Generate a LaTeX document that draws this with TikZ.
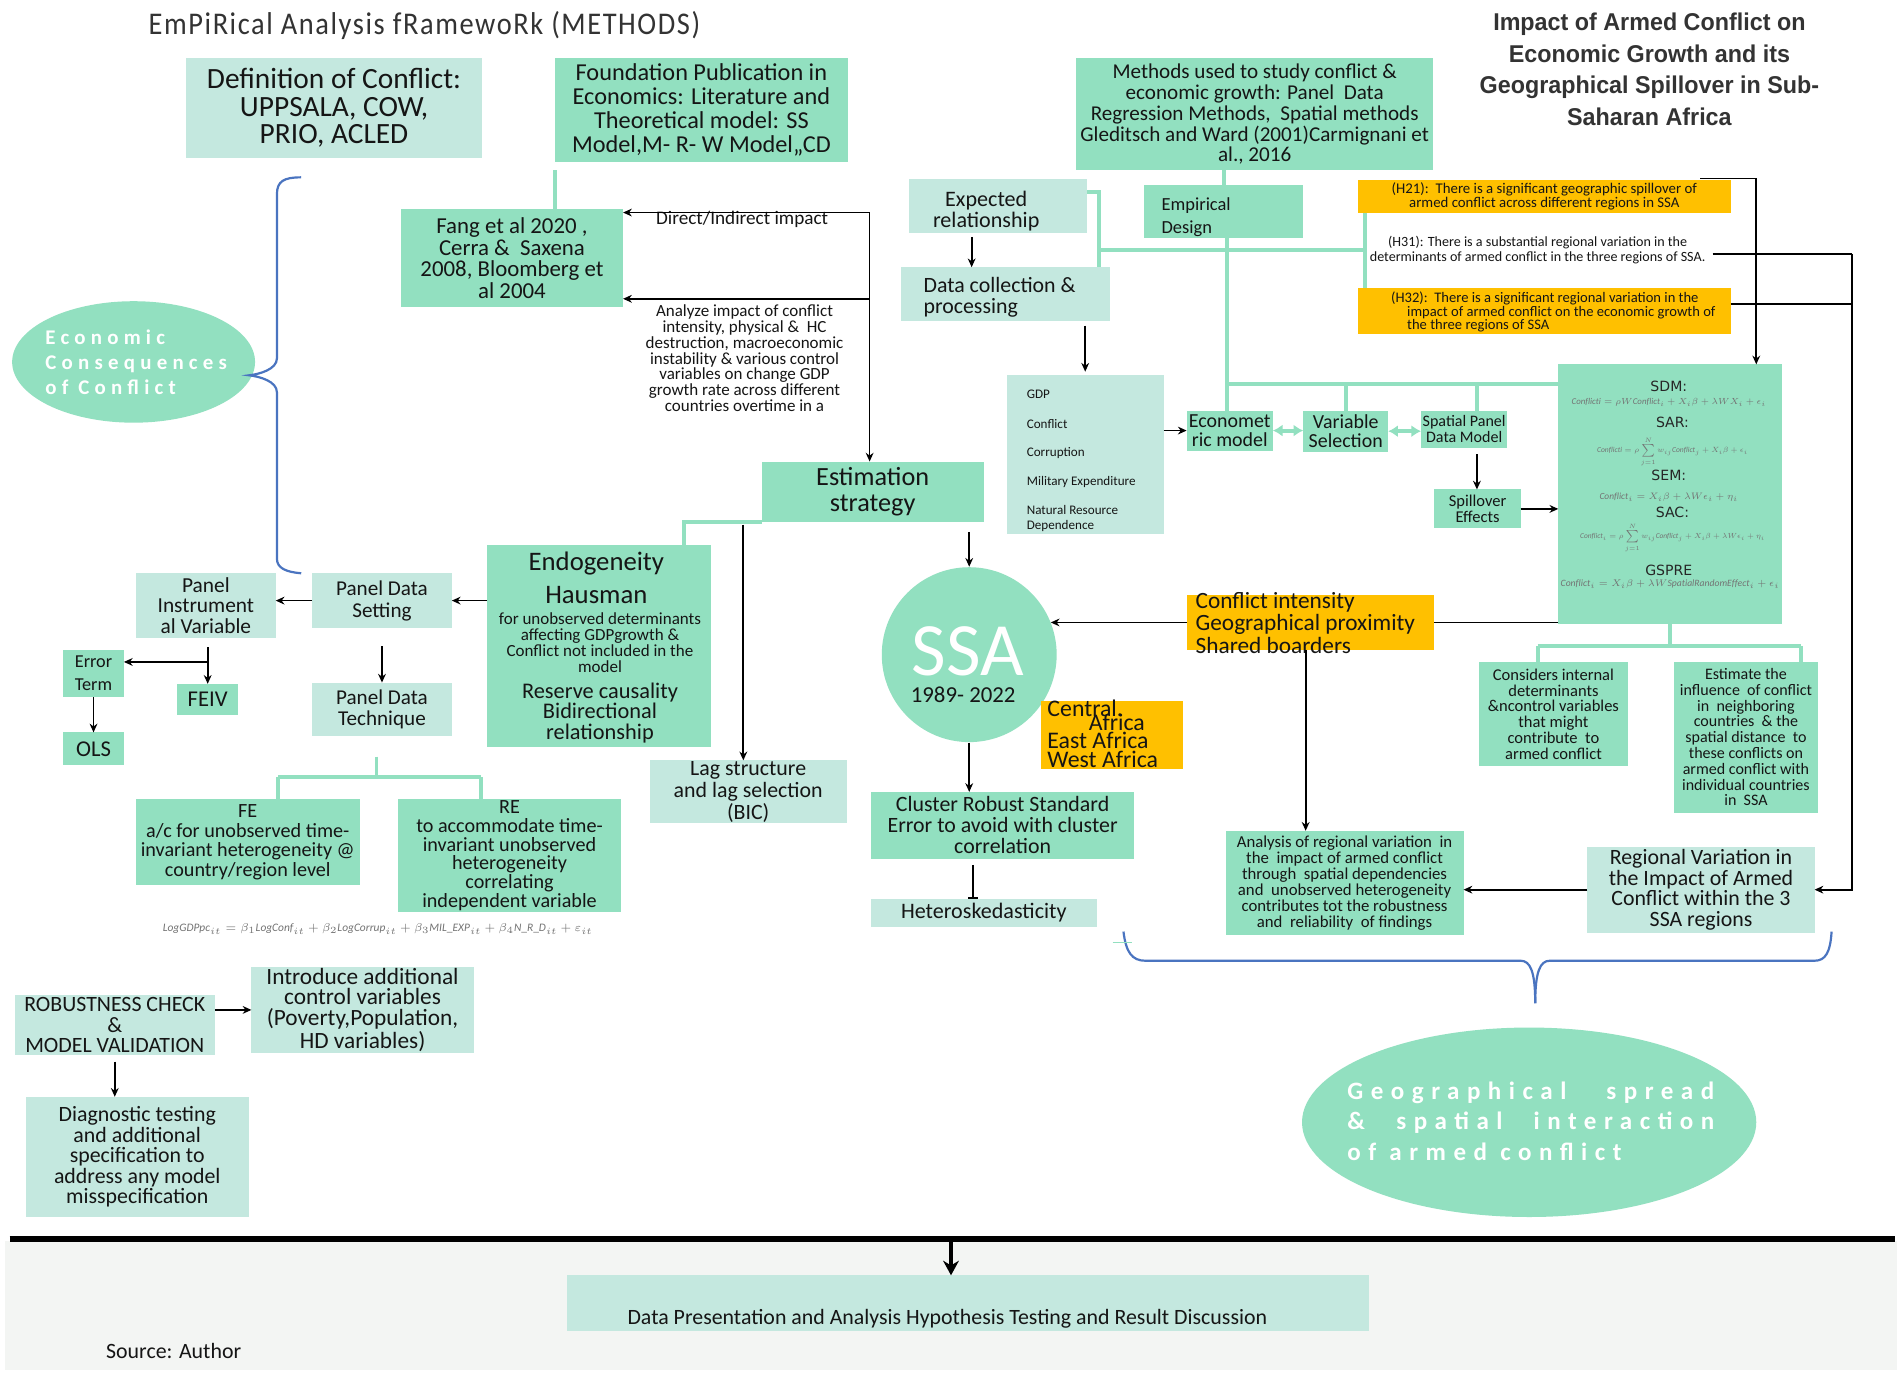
\documentclass[tikz,border=0pt]{standalone}
\usepackage{fontspec}
\setmainfont{Carlito}
\newfontfamily\titlefont{Liberation Sans}[FakeStretch=0.96]
\newfontfamily\spacedfont{Carlito}[LetterSpace=25]
\newfontfamily\spacedfontb{Carlito}[LetterSpace=30]
\newfontfamily\gothfont{DejaVu Sans}
\newfontfamily\headfont{Carlito}[FakeStretch=0.9,LetterSpace=5]
\usetikzlibrary{arrows.meta,calc,shapes.geometric}
\definecolor{mint}{HTML}{92E0C0}
\definecolor{pale}{HTML}{C4E8DF}
\definecolor{gold}{HTML}{FFC000}
\definecolor{bracecol}{HTML}{4A74C0}
\definecolor{txt}{HTML}{151515}
\definecolor{bottombg}{HTML}{F3F5F3}
\newcommand\fsz[2]{\fontsize{#1}{#2}\selectfont}
\newcommand\mybox[7]{\node[#6, minimum width={(#4-#2)*0.5pt}, minimum height={(#5-#3)*0.5pt}] (#1) at ({(#2+#4)/2},{(#3+#5)/2}) {#7};}
\begin{document}
\begin{tikzpicture}[x=0.5pt,y=-0.5pt,
 bx/.style={rectangle, inner sep=0pt, outer sep=0pt, align=center, text=txt},
 mintbox/.style={bx, fill=mint},
 palebox/.style={bx, fill=pale},
 goldbox/.style={bx, fill=gold},
 lbl/.style={inner sep=0pt, text=txt},
 arr/.style={draw=black, line width=0.7pt, -{Stealth[length=3.6pt,width=3.2pt]}},
 ln/.style={draw=black, line width=0.8pt},
 tl/.style={draw=mint, line width=1.6pt},
 brc/.style={draw=bracecol, line width=0.9pt},
 eqf/.style={inner sep=0pt, text=black!55, font=\fsz{6}{7}},
 lab/.style={inner sep=0pt, text=black!85, font=\gothfont\fsz{5.8}{6}},
 dbl/.style={tl, {Latex[length=4pt,width=5pt]}-{Latex[length=4pt,width=5pt]}},
]
\useasboundingbox (0,0) rectangle (1566,1130);
\fill[white] (0,0) rectangle (1566,1130);
\fill[bottombg] (4,1022) rectangle (1562,1128);

% titles
\node[lbl, anchor=west, font=\headfont\fsz{13}{14}, text=black!80] (ttl) at (122,21) {EmPiRical Analysis fRamewoRk (METHODS)};
\node[lbl, align=center, font=\titlefont\bfseries\fsz{10}{13}, text=black!80] (ttr) at (1358,57) {Impact of Armed Conflict on\\Economic Growth and its\\Geographical Spillover in Sub-\\Saharan Africa};

% top-left boxes
\mybox{def}{153}{48}{397}{130}{palebox,font=\fsz{12.1}{11.3}}{Definition of Conflict:\\UPPSALA, COW,\\PRIO, ACLED}
\mybox{found}{457}{48}{698}{133}{mintbox,font=\fsz{10}{9.8}}{Foundation Publication in\\Economics: Literature and\\Theoretical model: SS\\Model,M- R- W Model,,CD}
\mybox{fang}{330}{172}{513}{253}{mintbox,font=\fsz{9.4}{9}}{Fang et al 2020 ,\\Cerra \&\ \ Saxena\\2008, Bloomberg et\\al 2004}

% economic consequences ellipse
\node[ellipse, fill=mint, inner sep=0pt, minimum width=100pt, minimum height=50pt] (ecc) at (110,298) {};
\node[lbl, anchor=west, align=left, text=white, font=\spacedfont\bfseries\fsz{8.6}{10.3}] (ecct) at (37,298) {Economic\\Consequences\\of Conflict};

% left brace
\draw[brc] (248,146) .. controls (234,146) and (228,149) .. (228,160) -- (228,295) .. controls (228,304) and (214,308) .. (205,309) .. controls (214,310) and (228,314) .. (228,323) -- (228,460) .. controls (228,468) and (236,471) .. (248,472);

% labels between
\node[lbl, font=\fsz{7.9}{8}] (dil) at (611,181) {Direct/Indirect impact};
\node[lbl, align=center, font=\fsz{7}{6.5}] (anl) at (613,295) {Analyze impact of conflict\\intensity, physical \&\ \ HC\\destruction, macroeconomic\\instability \&\ various control\\variables on change GDP\\growth rate across different\\countries overtime in a};

\mybox{est}{627}{380}{810}{430}{mintbox,font=\fsz{10.8}{10.5}}{Estimation\\strategy}

% methods column
\mybox{meth}{886}{48}{1180}{140}{mintbox,font=\fsz{8.7}{8.6}}{Methods used to study conflict \&\\economic growth: Panel\ \ Data\\Regression Methods,\ \ Spatial methods\\Gleditsch and Ward (2001)Carmignani et\\al., 2016}
\mybox{emp}{942}{152}{1073}{196}{mintbox}{}
\node[lbl, anchor=west, align=left, font=\fsz{7.6}{9.3}] (empt) at (956,179) {Empirical\\Design};
\mybox{expect}{748}{147}{895}{192}{palebox}{}
\node[lbl, align=center, font=\fsz{9.1}{8.6}] (expt) at (812,174) {Expected\\relationship};
\mybox{datac}{742}{220}{914}{264}{palebox}{}
\node[lbl, anchor=west, align=left, font=\fsz{9}{8.6}] (datat) at (760,245) {Data collection \&\\processing};

% hypotheses
\mybox{hA}{1118}{148}{1425}{175}{goldbox,font=\fsz{6.1}{5.6}}{(H21):\ \ There is a significant geographic spillover of\\armed conflict across different regions in SSA}
\node[lbl, align=center, font=\fsz{5.8}{6}] (hB) at (1266,206) {(H31): There is a substantial regional variation in the\\determinants of armed conflict in the three regions of SSA.};
\mybox{hC}{1118}{237}{1425}{275}{goldbox}{}
\node[lbl, anchor=west, align=left, font=\fsz{6}{5.6}] (hCt) at (1145,257) {(H32):\ \ There is a significant regional variation in the\\\hspace*{1.1em}impact of armed conflict on the economic growth of\\\hspace*{1.1em}the three regions of SSA};

% variables list
\mybox{list}{829}{309}{958}{440}{palebox}{}
\node[lbl, anchor=west, font=\fsz{5.4}{6}] (v1) at (845,325) {GDP};
\node[lbl, anchor=west, font=\fsz{5.4}{6}] (v2) at (845,349) {Conflict};
\node[lbl, anchor=west, font=\fsz{5.4}{6}] (v3) at (845,373) {Corruption};
\node[lbl, anchor=west, font=\fsz{5.4}{6}] (v4) at (845,397) {Military Expenditure};
\node[lbl, anchor=west, align=left, font=\fsz{5.4}{6}] (v5) at (845,427) {Natural Resource\\Dependence};

\mybox{econm}{977}{338}{1048}{371}{mintbox,font=\fsz{8.2}{7.5}}{Economet\\ric model}
\mybox{var}{1073}{338}{1143}{372}{mintbox,font=\fsz{8.2}{7.5}}{Variable\\Selection}
\mybox{spat}{1170}{338}{1241}{369}{mintbox,font=\fsz{6.6}{6.5}}{Spatial Panel\\Data Model}
\mybox{spill}{1181}{403}{1252}{435}{mintbox,font=\fsz{6.8}{6.5}}{Spillover\\Effects}

% spatial models box
\mybox{sdm}{1283}{300}{1467}{514}{mintbox}{}
\node[lab] (l1) at (1374,318) {SDM:};
\node[eqf] (e1) at (1374,331) {\resizebox{80pt}{!}{$\mathit{Conflicti} = \rho W\mathit{Conflict}_i + X_i\beta + \lambda W X_i + \epsilon_i$}};
\node[lab] (l2) at (1377,348) {SAR:};
\node[eqf] (e2) at (1377,372) {\resizebox{62pt}{!}{$\mathit{Conflicti} = \rho\sum\limits_{j=1}^{N} w_{ij}\mathit{Conflict}_j + X_i\beta + \epsilon_i$}};
\node[lab] (l3) at (1374,391) {SEM:};
\node[eqf] (e3) at (1374,409) {\resizebox{57pt}{!}{$\mathit{Conflict}_i = X_i\beta + \lambda W\epsilon_i + \eta_i$}};
\node[lab] (l4) at (1377,422) {SAC:};
\node[eqf] (e4) at (1377,443) {\resizebox{76pt}{!}{$\mathit{Conflict}_i = \rho\sum\limits_{j=1}^{N} w_{ij}\mathit{Conflict}_j + X_i\beta + \lambda W\epsilon_i + \eta_i$}};
\node[lab] (l5) at (1374,470) {GSPRE};
\node[eqf] (e5) at (1375,481) {\resizebox{90pt}{!}{$\mathit{Conflict}_i = X_i\beta + \lambda W\mathit{SpatialRandomEffect}_i + \epsilon_i$}};

\mybox{cons}{1218}{545}{1340}{631}{mintbox,font=\fsz{6.8}{6.5}}{Considers internal\\determinants\\\&ncontrol variables\\that might\\contribute\ \ to\\armed conflict}
\mybox{estm}{1378}{545}{1497}{669}{mintbox,font=\fsz{6.6}{6.5}}{Estimate the\\influence\ \ of conflict\\in\ \ neighboring\\countries\ \ \& the\\spatial distance\ \ to\\these conflicts on\\armed conflict with\\individual countries\\in\ \ SSA}

% conflict intensity
\mybox{ci}{977}{490}{1181}{535}{goldbox}{}
\node[lbl, anchor=west, align=left, font=\fsz{9.6}{7.8}] (cit) at (984,513) {Conflict intensity\\Geographical proximity\\Shared boarders};

% SSA circle
\node[circle, fill=mint, inner sep=0pt, minimum size=72pt] (ssa) at (798,539) {};
\node[lbl, text=white, font=\fsz{31}{31}] (ssat) at (797,536) {SSA};
\node[lbl, font=\fsz{9.4}{9}] (ssay) at (793,572) {1989- 2022};
\mybox{reg3}{857}{577}{974}{633}{goldbox}{}
\node[lbl, anchor=west, font=\fsz{9.8}{9}] (r1) at (862,583) {Central.};
\node[lbl, anchor=west, font=\fsz{9.8}{9}] (r2) at (896,595) {Africa};
\node[lbl, anchor=west, font=\fsz{9.8}{9}] (r3) at (862,610) {East Africa};
\node[lbl, anchor=west, font=\fsz{9.8}{9}] (r4) at (862,625) {West Africa};

\mybox{clu}{717}{652}{934}{707}{mintbox,font=\fsz{9}{8.6}}{Cluster Robust Standard\\Error to avoid with cluster\\correlation}
\mybox{het}{717}{740}{903}{763}{palebox,font=\fsz{9.1}{9}}{Heteroskedasticity}

\mybox{ana}{1009}{684}{1205}{770}{mintbox,font=\fsz{6.9}{6.6}}{Analysis of regional variation\ \ in\\the\ \ impact of armed conflict\\through\ \ spatial dependencies\\and\ \ unobserved heterogeneity\\contributes tot the robustness\\and\ \ reliability\ \ of findings}
\mybox{reg}{1307}{697}{1494}{768}{palebox,font=\fsz{9}{8.5}}{Regional Variation in\\the Impact of Armed\\Conflict within the 3\\SSA regions}

% left middle
\mybox{endo}{401}{449}{585}{615}{mintbox}{}
\node[lbl, font=\fsz{11}{11}] (en1) at (491,464) {Endogeneity};
\node[lbl, font=\fsz{11}{11}] (en2) at (491,490) {Hausman};
\node[lbl, align=center, font=\fsz{7}{6.5}] (en3) at (494,529) {for unobserved determinants\\affecting GDPgrowth \&\\Conflict not included in the\\model};
\node[lbl, align=center, font=\fsz{9.2}{8.5}] (en4) at (494,587) {Reserve causality\\Bidirectional\\relationship};

\mybox{pds}{257}{472}{372}{517}{palebox,font=\fsz{8.7}{9}}{Panel Data\\Setting}
\mybox{piv}{112}{472}{227}{525}{palebox,font=\fsz{8.8}{8.5}}{Panel\\Instrument\\al Variable}
\mybox{err}{52}{535}{102}{574}{mintbox,font=\fsz{7.5}{9.5}}{Error\\Term}
\mybox{feiv}{146}{563}{196}{589}{mintbox,font=\fsz{9.3}{9}}{FEIV}
\mybox{ols}{52}{603}{102}{630}{mintbox,font=\fsz{9.3}{9}}{OLS}
\mybox{pdt}{257}{562}{372}{606}{palebox,font=\fsz{8.7}{9}}{Panel Data\\Technique}
\mybox{fe}{112}{658}{296}{729}{mintbox,font=\fsz{8.3}{8}}{FE\\a/c for unobserved time-\\invariant heterogeneity @\\country/region level}
\mybox{re}{328}{658}{511}{751}{mintbox,font=\fsz{8.3}{7.8}}{RE\\to accommodate time-\\invariant unobserved\\heterogeneity\\correlating\\independent variable}
\node[eqf] (eqm) at (311,765) {\resizebox{177pt}{!}{$\mathit{LogGDPpc}_{it} = \beta_1\mathit{LogConf}_{it} + \beta_2\mathit{LogCorrup}_{it} + \beta_3\mathit{MIL\_EXP}_{it} + \beta_4\mathit{N\_R\_D}_{it} + \varepsilon_{it}$}};
\mybox{lag}{535}{626}{697}{678}{palebox,font=\fsz{9}{9}}{Lag structure\\and lag selection\\(BIC)}

% robustness
\mybox{rob}{12}{819}{177}{869}{palebox,font=\fsz{9}{8.5}}{ROBUSTNESS CHECK\\\&\\MODEL VALIDATION}
\mybox{intro}{207}{796}{390}{867}{palebox,font=\fsz{9.6}{8.5}}{Introduce additional\\control variables\\(Poverty,Population,\\HD variables)}
\mybox{diag}{21}{903}{205}{1002}{palebox,font=\fsz{9}{8.5}}{Diagnostic testing\\and additional\\specification to\\address any model\\misspecification}

% geographical ellipse
\node[ellipse, fill=mint, inner sep=0pt, minimum width=187pt, minimum height=78pt] (geo) at (1259,924) {};
\node[lbl, anchor=west, align=left, text=white, font=\spacedfontb\bfseries\fsz{10.3}{12.6}] (geot) at (1109,923) {\makebox[151pt][s]{Geographical spread}\\\makebox[151pt][s]{\& spatial interaction}\\of armed conflict};

% bottom brace
\draw[brc] (925,767) .. controls (927,784) and (932,791) .. (943,791) -- (1252,791) .. controls (1260,791) and (1264,800) .. (1264,826);
\draw[brc] (1264,826) .. controls (1264,800) and (1268,791) .. (1276,791) -- (1494,791) .. controls (1503,791) and (1507,784) .. (1508,767);
\draw[mint, line width=0.8pt] (916,776) -- (932,776);

% bottom band
\mybox{dpres}{467}{1050}{1127}{1096}{palebox}{}
\node[lbl, font=\fsz{9}{9}] (dpt) at (780,1086) {Data Presentation and Analysis Hypothesis Testing and Result Discussion};
\node[lbl, anchor=west, font=\fsz{9}{9}] (src) at (87,1112) {Source: Author};
\coordinate (bL) at (8,1020); \coordinate (bR) at (1560,1020); \coordinate (bM) at (783,1020);
\draw[line width=2.6pt] (bL) -- (bR);
\draw[line width=2pt, -{Stealth[length=6pt,width=6.5pt]}] (bM) -- (bM |- dpres.north);

% ---------- connectors ----------
\draw[tl] ($(found.south west)+(0,7)$) -- (found.south west |- fang.north);
\coordinate (jA) at (716,175); \coordinate (jB) at (716,246);
\draw[arr] (jA) -- (jA -| fang.east);
\draw[arr] (jB) -- (jB -| fang.east);
\draw[arr] (jA) -- (jA |- est.north);

\coordinate (eA) at (800,195);
\draw[arr] (eA) -- (eA |- datac.north);
\coordinate (tT) at (905,158);
\draw[tl] (expect.east |- tT) -- (tT) -- (tT |- datac.north);
\coordinate (tA) at (905,206); \coordinate (tB) at (1124,206);
\draw[tl] (tA) -- (tB);
\draw[tl] (hA.south -| tB) -- (hC.north -| tB);
\draw[tl] (meth.south -| emp.north) -- (emp.north);
\coordinate (eD) at (1010,316);
\draw[tl] (emp.south -| eD) -- (eD) -- (eD -| sdm.west);
\draw[tl] (eD) -- (eD |- econm.north);
\draw[tl] (var.north |- eD) -- (var.north);
\coordinate (eS) at (1216,316);
\draw[tl] (eS) -- (eS |- spat.north);

\draw[arr] ($(datac.south -| list.north)+(0,4)$) -- ($(list.north)+(0,-3)$);
\draw[arr] (list.east |- econm.west) -- (econm.west);
\draw[dbl] (econm.east) -- (var.west |- econm.east);
\draw[dbl] (var.east) -- (spat.west |- var.east);
\coordinate (sp) at (1216,374);
\draw[arr] (sp) -- (sp |- spill.north);
\draw[arr] (spill.east) -- (spill.east -| sdm.west);

\coordinate (hA1) at (1400,147); \coordinate (hA2) at (1446,147);
\draw[arr] (hA1) -- (hA2) -- (hA2 |- sdm.north);
\coordinate (hB1) at (1410,209); \coordinate (hV) at (1525,209);
\draw[ln] (hB1) -- (hV);
\draw[ln] (hC.east |- 0,250) -- (hV |- 0,250);
\draw[arr] (hV) -- (hV |- reg.east) -- (reg.east);

\draw[ln] (sdm.west |- ci.east) -- (ci.east);
\draw[arr] (ci.west) -- (ci.west -| ssa.22);
\coordinate (cA) at (1075,535);
\draw[arr] (ci.south -| cA) -- (ana.north -| cA);
\draw[arr] (reg.west) -- (reg.west -| ana.east);

\coordinate (sA) at (1375,532); \coordinate (sL) at (1266,532); \coordinate (sR) at (1483,532);
\draw[tl] (sdm.south -| sA) -- (sA);
\draw[tl] (sL) -- (sR);
\draw[tl] (sL) -- (sL |- cons.north);
\draw[tl] (sR) -- (sR |- estm.north);

\coordinate (gA) at (563,430);
\draw[tl] (est.south west) -- (gA) -- (gA |- endo.north);
\coordinate (lA) at (612,432);
\draw[arr] (lA) -- (lA |- lag.north);
\draw[arr] ($(est.south -| ssa.north)+(0,8)$) -- (ssa.north);
\draw[arr] (endo.west |- pds.east) -- (pds.east);
\draw[arr] (pds.west) -- (pds.west -| piv.east);
\draw[arr] ($(pds.south)+(0,15)$) -- (pdt.north);
\coordinate (pA) at (171,533); \coordinate (pB) at (171,545);
\draw[arr] (pA) -- (pA |- feiv.north);
\draw[arr] (pB) -- (pB -| err.east);
\draw[arr] (err.south) -- (ols.north);
\coordinate (qA) at (310,623); \coordinate (qB) at (310,640);
\coordinate (qL) at (229,640); \coordinate (qR) at (396,640);
\draw[tl] (qA) -- (qB);
\draw[tl] (qL) -- (qR);
\draw[tl] (qL) -- (qL |- fe.north);
\draw[tl] (qR) -- (qR |- re.north);

\draw[arr] (ssa.south) -- (ssa.south |- clu.north);
\coordinate (kA) at (801,712);
\draw[draw=black, line width=0.7pt, -{Bar[width=4pt]}] (kA) -- (kA |- het.north);

\draw[arr] (rob.east |- intro.west) -- (intro.west);
\draw[arr] ($(rob.south)+(0,5)$) -- (rob.south |- diag.north);
\end{tikzpicture}
\end{document}
